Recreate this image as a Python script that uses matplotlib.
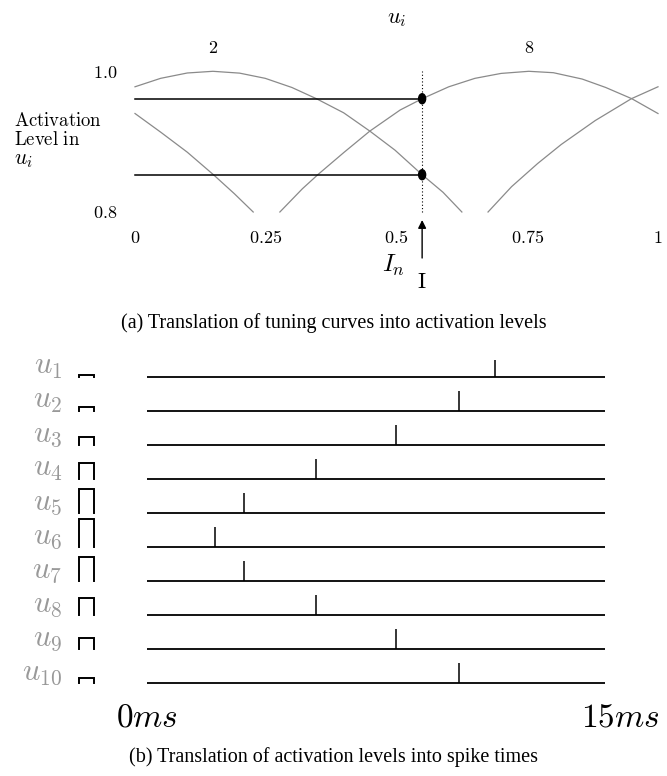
import numpy as np
import matplotlib
matplotlib.use('Agg')
import matplotlib.pyplot as plt
from matplotlib.patches import Ellipse

plt.rcParams['mathtext.fontset'] = 'cm'
plt.rcParams['font.family'] = 'Liberation Serif'

# ---- (a) tuning curves (x = input, y = activation)
curve_a_x = [0.0, 0.049, 0.10, 0.149, 0.20, 0.249, 0.30, 0.347, 0.399, 0.449, 0.497, 0.549, 0.589, 0.625]
curve_a_y = [0.978, 0.990, 0.9976, 1.0, 0.9974, 0.990, 0.977, 0.961, 0.941, 0.915, 0.888, 0.853, 0.828, 0.80]
curve_b_x = [0.0, 0.05, 0.10, 0.15, 0.19, 0.226]
curve_b_y = [0.940, 0.913, 0.885, 0.853, 0.826, 0.80]
curve_c_x = [0.277, 0.32, 0.351, 0.40, 0.449, 0.507, 0.549, 0.60, 0.65, 0.70, 0.753, 0.80, 0.855, 0.90, 0.95, 1.0]
curve_c_y = [0.80, 0.833, 0.854, 0.885, 0.915, 0.945, 0.961, 0.978, 0.990, 0.997, 1.0, 0.998, 0.989, 0.977, 0.961, 0.940]
curve_d_x = [0.675, 0.72, 0.77, 0.815, 0.88, 0.949, 1.0]
curve_d_y = [0.80, 0.836, 0.869, 0.896, 0.930, 0.961, 0.978]

peak_x = [0.149, 0.753]
peak_labels = ['2', '8']
input_x = 0.549                 # I_n
act_levels = [0.961, 0.853]     # where I_n hits curves 8 and 2

xticks = [0, 0.25, 0.5, 0.75, 1]
xtick_labels = ['0', '0.25', '0.5', '0.75', '1']
yticks = [0.8, 1.0]
ytick_labels = ['0.8', '1.0']

# ---- (b) spike times
units = ['u_{%d}' % i for i in range(1, 11)]
spike_ms = [11.4, 10.22, 8.16, 5.53, 3.18, 2.23, 3.18, 5.53, 8.16, 10.22]
bar_height = [0.06, 0.13, 0.25, 0.47, 0.70, 0.82, 0.70, 0.49, 0.32, 0.15]

GRAY = '#8a8a8a'
LGRAY = '#999999'

fig = plt.figure(figsize=(6.67, 7.76), dpi=100)

# ---------------- top panel
ax = fig.add_axes([135/667, 1-212/776, 523/667, 140.7/776])
ax.set_xlim(0, 1)
ax.set_ylim(0.8, 1.0)
for s in ax.spines.values():
    s.set_visible(False)
for cx, cy in [(curve_a_x, curve_a_y), (curve_b_x, curve_b_y),
               (curve_c_x, curve_c_y), (curve_d_x, curve_d_y)]:
    ax.plot(cx, cy, color=GRAY, lw=0.9, clip_on=False)

for lv in act_levels:
    ax.plot([0, input_x], [lv, lv], color='k', lw=1.1, clip_on=False)
    ax.add_patch(Ellipse((input_x, lv), 0.0134, 0.0142, color='k', clip_on=False, zorder=5))
ax.plot([input_x, input_x], [0.8, 1.0], color='k', lw=0.8, ls=(0, (1, 2)), clip_on=False)

ax.annotate('', xy=(input_x, 0.7886), xytext=(input_x, 0.7346),
            arrowprops=dict(arrowstyle='-|>', color='k', lw=1.0, mutation_scale=12, shrinkA=0, shrinkB=0),
            annotation_clip=False)
ax.text(0.495, 0.7247, r'$I_n$', fontsize=18, ha='center', va='center')
ax.text(input_x, 0.698, r'$\mathrm{I}$', fontsize=16, ha='center', va='center')

for px, lab in zip(peak_x, peak_labels):
    ax.text(px, 1.033, r'$\mathrm{%s}$' % lab, fontsize=13, ha='center', va='center')
ax.text(0.5, 1.073, r'$u_i$', fontsize=16, ha='center', va='center')

ax.set_xticks(xticks)
ax.set_xticklabels([r'$\mathrm{%s}$' % t for t in xtick_labels], fontsize=13)
ax.set_yticks(yticks)
ax.set_yticklabels([r'$\mathrm{%s}$' % t for t in ytick_labels], fontsize=13)
ax.tick_params(length=0)
ax.tick_params(axis='x', pad=13)
ax.tick_params(axis='y', pad=13)

fig.text(14/667, 1-121/776, r'$\mathrm{Activation}$', fontsize=13.5, va='center')
fig.text(14/667, 1-140/776, r'$\mathrm{Level\ in}$', fontsize=13.5, va='center')
fig.text(14/667, 1-160/776, r'$u_i$', fontsize=15.5, va='center')

fig.text(0.5, 1-323/776, '(a) Translation of tuning curves into activation levels',
         fontsize=14.5, ha='center', va='center')

# ---------------- bottom panel
bx = fig.add_axes([147/667, 1-700/776, 458/667, 340/776])
bx.set_xlim(0, 15)
bx.set_ylim(10.5, 0.5)
bx.axis('off')
rows = np.arange(1, 11)
bx.hlines(rows, 0, 15, color='k', lw=1.3)
bx.vlines(spike_ms, rows, rows - 0.59, color='k', lw=1.1)

x0, x1 = -2.227, -1.736
for r, h, lab in zip(rows, bar_height, units):
    bx.plot([x0, x0, x1, x1], [r, r - h, r - h, r], color='k', lw=1.4, clip_on=False,
            solid_joinstyle='miter')
    bx.text(-2.78, r - 0.09, r'$%s$' % lab, fontsize=22, color=LGRAY, ha='right', va='baseline')

bx.text(0, 11.03, r'$0ms$', fontsize=24, ha='center', va='center')
bx.text(15.5, 11.03, r'$15ms$', fontsize=24, ha='center', va='center')

fig.text(0.5, 1-757/776, '(b) Translation of activation levels into spike times',
         fontsize=14.5, ha='center', va='center')

fig.savefig('out.png', dpi=100)
